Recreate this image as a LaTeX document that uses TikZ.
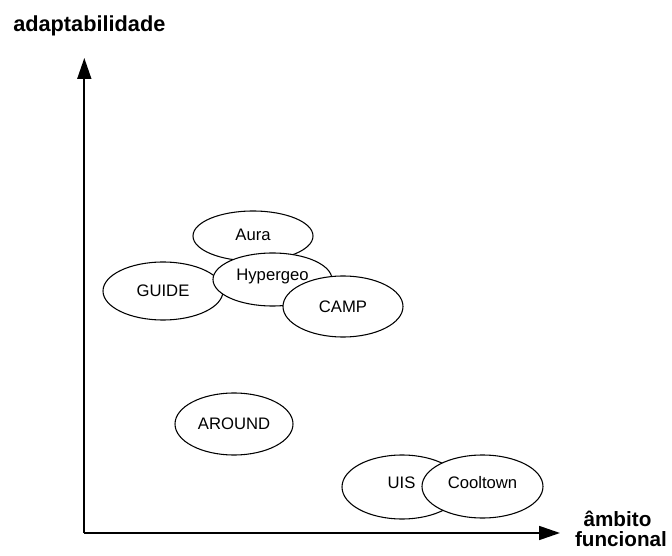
\documentclass[tikz,border=0pt]{standalone}
\usepackage{fontspec}
\setmainfont{Liberation Sans}
\usetikzlibrary{arrows.meta,shapes.geometric}
\begin{document}
\begin{tikzpicture}[x=0.75pt,y=-0.75pt,
  blob/.style={ellipse,draw,fill=white,line width=0.8pt,inner sep=0pt},
  tag/.style={font=\fontsize{12.5}{15}\selectfont,inner sep=0pt,text height=9pt,text depth=0pt},
  axislbl/.style={font=\fontsize{15.5}{20}\selectfont\bfseries,inner sep=0pt},
  axis/.style={line width=1.3pt,-{Triangle[length=15.75pt,width=10.5pt]}}]
\useasboundingbox (0,0) rectangle (672,556);

% axes
\coordinate (origin) at (84.3,533);
\coordinate (ytip) at (84.3,58);
\coordinate (xtip) at (560,533);
\draw[axis] (origin) -- (ytip);
\draw[axis] (origin) -- (xtip);

% axis labels
\node[axislbl,font=\fontsize{16.3}{20}\selectfont\bfseries,anchor=base west] (ylab) at (13,31.7) {adaptabilidade};
\node[axislbl,anchor=base] (xlab1) at (617.5,526.7) {âmbito};
\node[axislbl,anchor=base] (xlab2) at (621,546.7) {funcional};

% systems
\node[blob,minimum width=90pt,minimum height=37.5pt] (aura) at (253,236) {};
\node[blob,minimum width=90pt,minimum height=43.5pt] (guide) at (163,291) {};
\node[blob,minimum width=89.25pt,minimum height=39.75pt] (hyper) at (272.5,279.5) {};
\node[blob,minimum width=90pt,minimum height=45.75pt] (camp) at (343,306.5) {};
\node[blob,minimum width=88.5pt,minimum height=46.5pt] (around) at (234,424) {};
\node[blob,minimum width=90pt,minimum height=48pt] (uis) at (402,487) {};
\node[blob,minimum width=90.75pt,minimum height=47.25pt] (cool) at (482.5,486.5) {};

\node[tag] (t-aura) at (253,235) {Aura};
\node[tag] (t-guide) at (163,290.5) {GUIDE};
\node[tag] (t-hyper) at (272.5,274.5) {Hypergeo};
\node[tag] (t-camp) at (343,306.5) {CAMP};
\node[tag] (t-around) at (234,423.5) {AROUND};
\node[tag] (t-uis) at (401.5,482.5) {UIS};
\node[tag] (t-cool) at (482.5,482.5) {Cooltown};
\end{tikzpicture}
\end{document}
